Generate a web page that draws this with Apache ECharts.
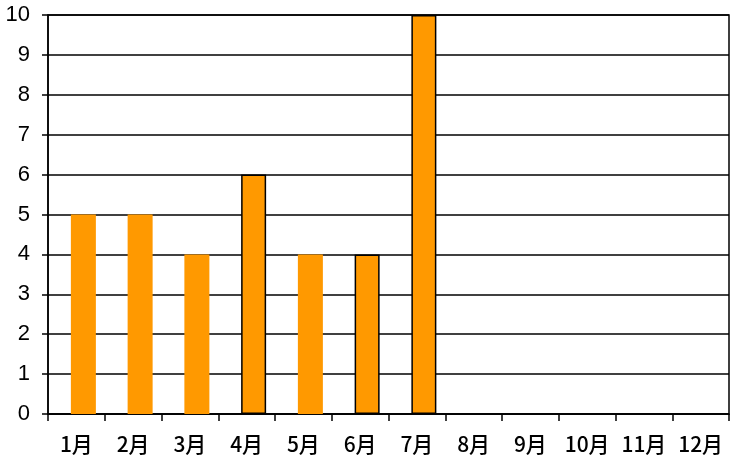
<!DOCTYPE html>
<html>
<head>
<meta charset="utf-8">
<script src="https://cdn.jsdelivr.net/npm/echarts@6/dist/echarts.min.js"></script>
<style>
  html, body { margin: 0; padding: 0; background: #fff; }
  #chart { width: 742px; height: 470px; }
</style>
</head>
<body>
<div id="chart"></div>
<script>
const months = ['1月', '2月', '3月', '4月', '5月', '6月', '7月', '8月', '9月', '10月', '11月', '12月'];
const counts = [5, 5, 4, 6, 4, 4, 10, null, null, null, null, null];
const yTicks = [0, 1, 2, 3, 4, 5, 6, 7, 8, 9, 10];

// bars drawn with an outline in the original
const outlined = [3, 5, 6];

const chart = echarts.init(document.getElementById('chart'));

const option = {
    animation: false,
    grid: {
        left: 48,
        right: 13,
        top: 15,
        bottom: 56,
        show: true,
        borderColor: '#000',
        borderWidth: 1.5
    },
    xAxis: {
        type: 'category',
        data: months,
        axisLine: { lineStyle: { color: '#000', width: 1.5 } },
        axisTick: { show: true, interval: 0, alignWithLabel: false, length: 7, lineStyle: { color: '#000', width: 1.5 } },
        axisLabel: {
            interval: 0,
            color: '#000',
            fontSize: 21,
            fontWeight: 500,
            fontFamily: 'Noto Sans CJK JP',
            margin: 20
        }
    },
    yAxis: {
        type: 'value',
        min: yTicks[0],
        max: yTicks[yTicks.length - 1],
        interval: 1,
        axisLine: { show: true, lineStyle: { color: '#000', width: 1.5 } },
        axisTick: { show: true, length: 6, lineStyle: { color: '#000', width: 1.5 } },
        axisLabel: {
            color: '#000',
            fontSize: 22,
            fontFamily: 'Liberation Sans',
            margin: 18
        },
        splitLine: { lineStyle: { color: '#000', width: 1.5 } }
    },
    series: [
        {
            // empty spacer so the bar sits right of the category centre, as in the original
            type: 'bar',
            barWidth: 25,
            barGap: '-44%',
            silent: true,
            data: []
        },
        {
            type: 'bar',
            barWidth: 25,
            data: counts.map((v, i) => ({
                value: v,
                itemStyle: outlined.includes(i)
                    ? { color: '#FF9900', borderColor: '#000', borderWidth: 1.5 }
                    : { color: '#FF9900' }
            }))
        }
    ]
};

chart.setOption(option);
</script>
</body>
</html>
